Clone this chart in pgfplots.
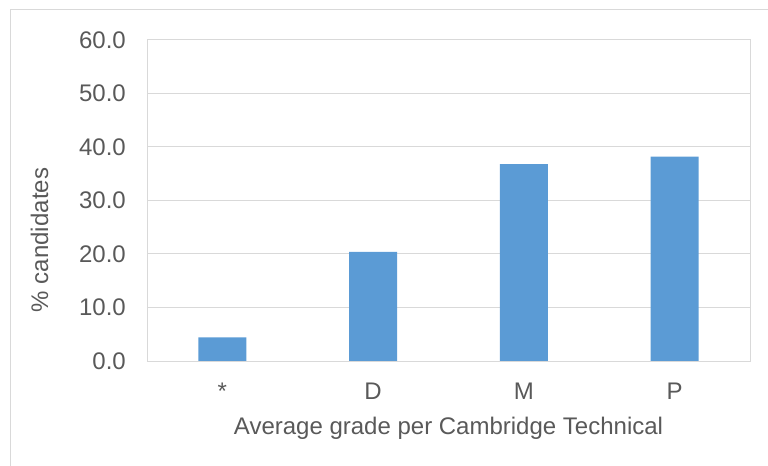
\documentclass[border=0pt]{standalone}
\usepackage{pgfplots}
\pgfplotsset{compat=1.18}
\usepackage{fontspec}
\setmainfont{Liberation Sans}
\definecolor{barblue}{HTML}{5B9BD5}
\definecolor{gridgray}{HTML}{D9D9D9}
\definecolor{textgray}{HTML}{595959}
\begin{document}
\begin{tikzpicture}
\useasboundingbox (0,0) rectangle (768bp,466bp);
\draw[gridgray, line width=1bp] (10bp,-2bp) -- (10bp,456bp) -- (770bp,456bp);
\begin{axis}[
  at={(147bp,105bp)}, anchor=south west,
  scale only axis, width=603bp, height=321bp,
  ymin=0, ymax=60, ytick={0,10,...,60},
  xmin=-0.5, xmax=3.5,
  xtick={0,1,2,3}, xticklabels={*,D,M,P},
  ymajorgrids, grid style={gridgray, line width=1bp},
  axis line style={gridgray, line width=1bp},
  major tick length=0pt,
  font=\fontsize{24bp}{28bp}\selectfont,
  tick label style={textgray},
  /pgf/number format/assume math mode=true,
  yticklabel={\pgfmathprintnumber[fixed,fixed zerofill,precision=1]{\tick}},
  yticklabel style={anchor=east, inner sep=0pt, xshift=-21bp},
  xticklabel style={anchor=north, inner sep=0pt, text height=17bp, text depth=0pt, yshift=-21bp},
  xlabel={Average grade per Cambridge Technical},
  ylabel={\% candidates},
  label style={textgray},
  xlabel style={at={(axis description cs:0.5,-0.228)}, anchor=base},
  ylabel style={at={(axis description cs:-0.178,0.377)}, anchor=center},
  ybar, bar width=48bp,
]
\addplot[fill=barblue, draw=none] coordinates {(0,4.4) (1,20.4) (2,36.8) (3,38.2)};
\end{axis}
\end{tikzpicture}
\end{document}
